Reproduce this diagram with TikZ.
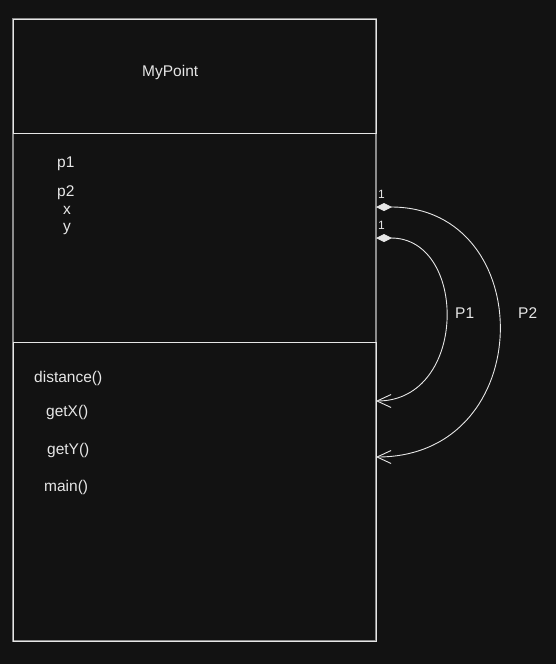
\documentclass[tikz,border=0pt]{standalone}
\usepackage{fontspec}
\setmainfont{Liberation Sans}
\usetikzlibrary{arrows.meta}
\definecolor{fondo}{HTML}{121212}
\definecolor{linea}{HTML}{E6E6E6}
\definecolor{borde}{HTML}{8C8C8C}
\begin{document}
\begin{tikzpicture}[x=1pt, y=-1pt,
    texto/.style={anchor=base west, inner sep=0pt, text=linea, font=\fontsize{15.5}{18}\selectfont},
    mult/.style={anchor=base west, inner sep=0pt, text=linea, font=\fontsize{12}{14}\selectfont},
    assoc/.style={draw=linea, line width=0.9pt,
        {Diamond[length=16pt,width=8pt]}-{Straight Barb[length=14pt,width=13pt]}}]
        % Fondo
        \fill[fondo] (0,0) rectangle (556,664);
        \useasboundingbox (0,0) rectangle (556,664);

        % Clase (tres compartimentos)
        \draw[borde, line width=1.6pt] (13,19) rectangle (376,641);
        \draw[linea, line width=1pt] (13,19) rectangle (376,133);
        \draw[linea, line width=1pt] (13,342) rectangle (376,641);

        % Nombre
        \node[texto] (nombre) at (142,76) {MyPoint};

        % Atributos
        \node[texto] (p1) at (57,167) {p1};
        \node[texto] (p2) at (57,196) {p2};
        \node[texto] (x) at (63,214) {x};
        \node[texto] (y) at (63,231) {y};

        % Metodos
        \node[texto] (distance) at (34,382) {distance()};
        \node[texto] (getx) at (46,416) {getX()};
        \node[texto] (gety) at (47,454) {getY()};
        \node[texto] (main) at (44,491) {main()};

        % Asociaciones P1, P2
        \coordinate (ini1) at (376,238);
        \coordinate (fin1) at (376,401);
        \coordinate (ini2) at (376,207);
        \coordinate (fin2) at (376,457);
        \draw[assoc] (ini1) .. controls (468,238) and (468,401) .. (fin1);
        \draw[assoc] (ini2) .. controls (539,207) and (539,457) .. (fin2);

        \node[mult] (m1) at (378,229) {1};
        \node[mult] (m2) at (378,198) {1};
        \node[texto] (lp1) at (455,318) {P1};
        \node[texto] (lp2) at (518,318) {P2};
    \end{tikzpicture}
\end{document}
